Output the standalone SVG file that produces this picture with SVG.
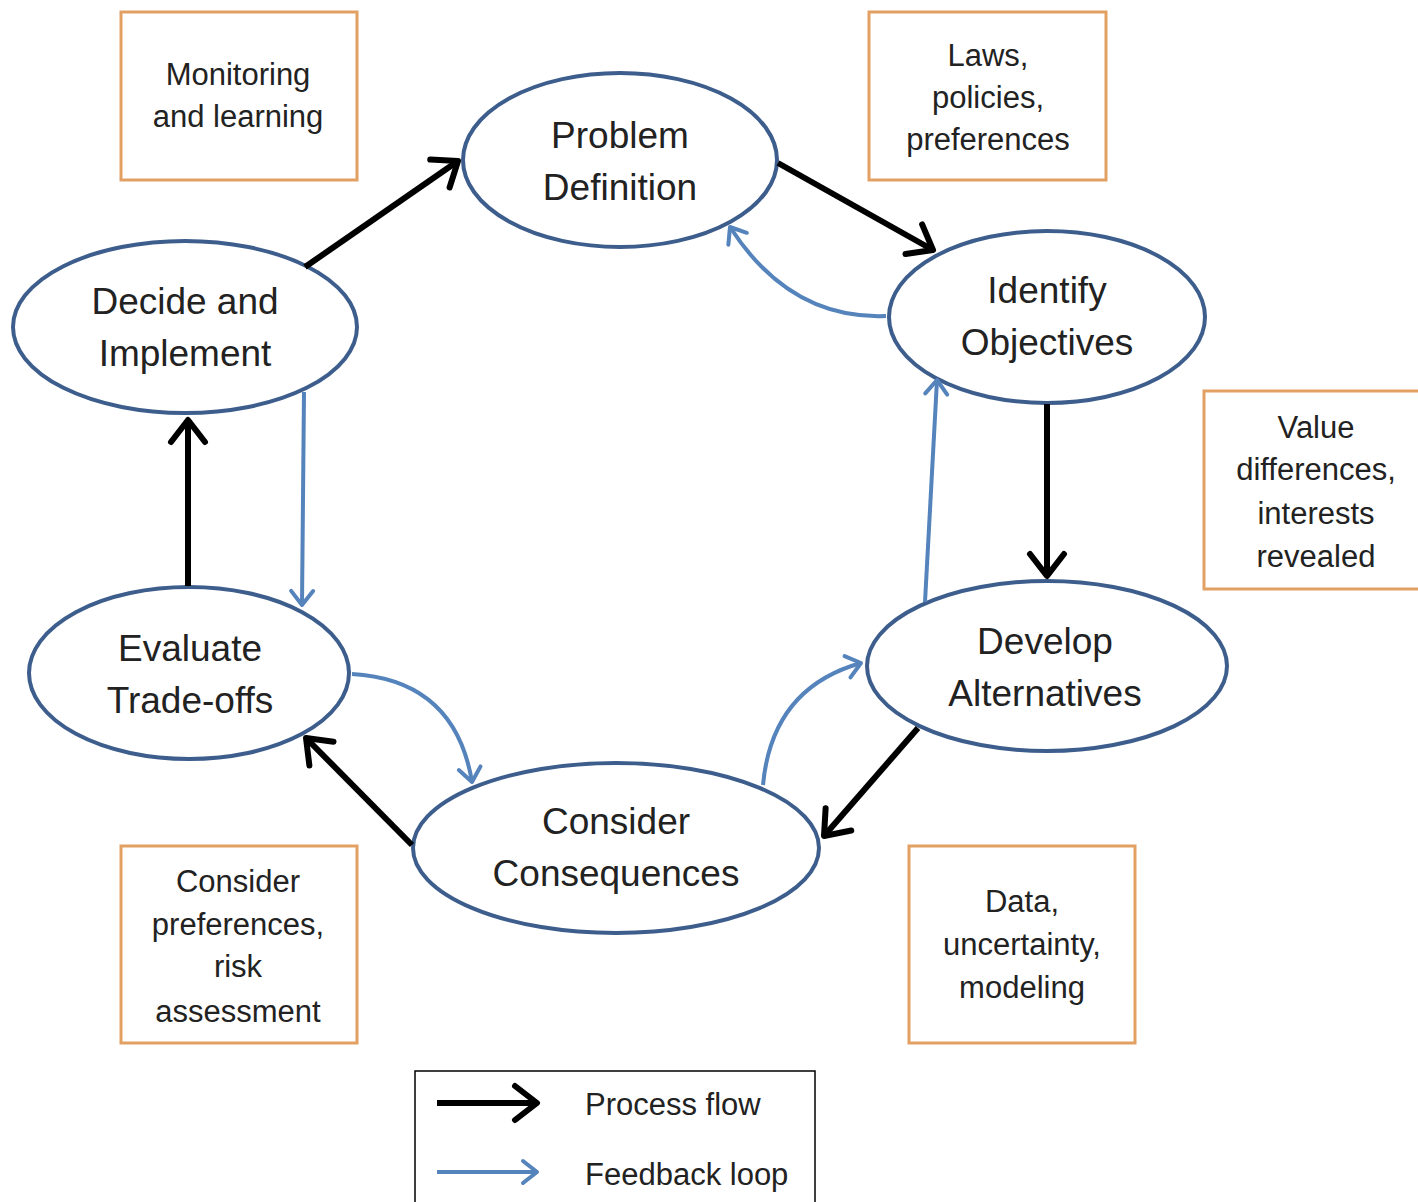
<svg xmlns="http://www.w3.org/2000/svg" width="1418" height="1202" viewBox="0 0 1418 1202">
<style>
.node{fill:#fff;stroke:#3d5e8c;stroke-width:4}
.nt{font-family:"Liberation Sans",Arial,sans-serif;font-size:37px;fill:#222;text-anchor:middle}
.box{fill:#fff;stroke:#e3a063;stroke-width:3}
.bt{font-family:"Liberation Sans",Arial,sans-serif;font-size:31px;fill:#222;text-anchor:middle}
.flow{fill:none;stroke:#000;stroke-width:6;marker-end:url(#ab)}
.fb{fill:none;stroke:#5583bb;stroke-width:4;marker-end:url(#au)}
.lt{font-family:"Liberation Sans",Arial,sans-serif;font-size:31px;fill:#222}
</style>
<defs>
<marker id="ab" markerUnits="userSpaceOnUse" viewBox="-30 -22 36 44" refX="0" refY="0" markerWidth="36" markerHeight="44" orient="auto">
<path d="M-22,-17 L0,0 L-22,17" fill="none" stroke="#000" stroke-width="6" stroke-linecap="round" stroke-linejoin="round"/>
</marker>
<marker id="au" markerUnits="userSpaceOnUse" viewBox="-20 -14 24 28" refX="0" refY="0" markerWidth="24" markerHeight="28" orient="auto">
<path d="M-14,-11 L0,0 L-14,11" fill="none" stroke="#5583bb" stroke-width="4" stroke-linecap="round" stroke-linejoin="round"/>
</marker>
</defs>
<rect width="1418" height="1202" fill="#fff"/>
<g id="n-problem">
<ellipse class="node" cx="620" cy="160" rx="157" ry="87"/>
<text class="nt" x="620" y="148">Problem</text>
<text class="nt" x="620" y="200">Definition</text>
</g>
<g id="n-identify">
<ellipse class="node" cx="1047" cy="317" rx="158" ry="86"/>
<text class="nt" x="1047" y="303">Identify</text>
<text class="nt" x="1047" y="355">Objectives</text>
</g>
<g id="n-develop">
<ellipse class="node" cx="1047" cy="666" rx="180" ry="85"/>
<text class="nt" x="1045" y="654">Develop</text>
<text class="nt" x="1045" y="706">Alternatives</text>
</g>
<g id="n-consider">
<ellipse class="node" cx="616" cy="848" rx="203" ry="85"/>
<text class="nt" x="616" y="834">Consider</text>
<text class="nt" x="616" y="886">Consequences</text>
</g>
<g id="n-evaluate">
<ellipse class="node" cx="189" cy="673" rx="160" ry="86"/>
<text class="nt" x="190" y="661">Evaluate</text>
<text class="nt" x="190" y="713">Trade-offs</text>
</g>
<g id="n-decide">
<ellipse class="node" cx="185" cy="327" rx="172" ry="86"/>
<text class="nt" x="185" y="314">Decide and</text>
<text class="nt" x="185" y="366">Implement</text>
</g>
<g id="connectors">
<path class="flow" d="M305,267 L458,161"/>
<path class="flow" d="M778,163 L933,250"/>
<path class="flow" d="M1047,404 L1047,576"/>
<path class="flow" d="M918,728 L824,836"/>
<path class="flow" d="M412,845 L306,738"/>
<path class="flow" d="M188,586 L188,420"/>
<path class="fb" d="M886,316 Q790,320 730,227"/>
<path class="fb" d="M925,602 L937,380"/>
<path class="fb" d="M763,785 Q772,688 861,663"/>
<path class="fb" d="M352,674 Q455,680 472,782"/>
<path class="fb" d="M304,392 L302,605"/>
</g>
<g id="b-monitoring">
<rect class="box" x="121" y="12" width="236" height="168"/>
<text class="bt" x="238" y="85">Monitoring</text>
<text class="bt" x="238" y="127">and learning</text>
</g>
<g id="b-laws">
<rect class="box" x="869" y="12" width="237" height="168"/>
<text class="bt" x="988" y="66">Laws,</text>
<text class="bt" x="988" y="108">policies,</text>
<text class="bt" x="988" y="150">preferences</text>
</g>
<g id="b-value">
<rect class="box" x="1204" y="391" width="216" height="198"/>
<text class="bt" x="1316" y="438">Value</text>
<text class="bt" x="1316" y="480">differences,</text>
<text class="bt" x="1316" y="524">interests</text>
<text class="bt" x="1316" y="567">revealed</text>
</g>
<g id="b-prefs">
<rect class="box" x="121" y="846" width="236" height="197"/>
<text class="bt" x="238" y="892">Consider</text>
<text class="bt" x="238" y="935">preferences,</text>
<text class="bt" x="238" y="977">risk</text>
<text class="bt" x="238" y="1022">assessment</text>
</g>
<g id="b-data">
<rect class="box" x="909" y="846" width="226" height="197"/>
<text class="bt" x="1022" y="912">Data,</text>
<text class="bt" x="1022" y="955">uncertainty,</text>
<text class="bt" x="1022" y="998">modeling</text>
</g>
<g id="legend">
<rect x="415" y="1071" width="400" height="140" fill="#fff" stroke="#000" stroke-width="1.5"/>
<path class="flow" d="M437,1103 L537,1103"/>
<path class="fb" d="M437,1172 L537,1172"/>
<text class="lt" x="585" y="1115">Process flow</text>
<text class="lt" x="585" y="1185">Feedback loop</text>
</g>
</svg>
